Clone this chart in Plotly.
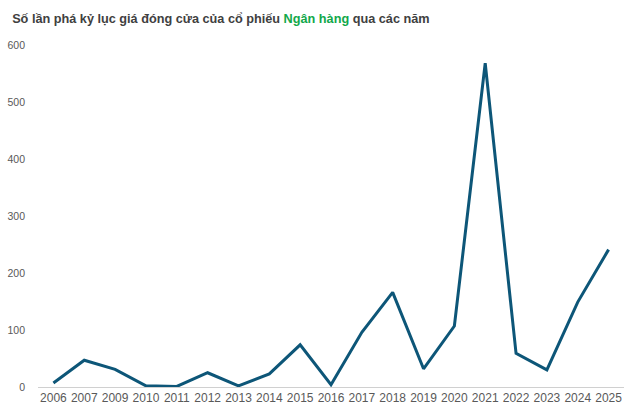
import plotly.graph_objects as go

years = ["2006", "2007", "2009", "2010", "2011", "2012", "2013", "2014", "2015", "2016",
         "2017", "2018", "2019", "2020", "2021", "2022", "2023", "2024", "2025"]
counts = [7, 47, 31, 2, 1, 25, 2, 23, 74, 4, 96, 166, 32, 107, 568, 59, 30, 149, 241]
y_ticks = [0, 100, 200, 300, 400, 500, 600]

fig = go.Figure()
fig.add_trace(go.Scatter(
    x=years, y=counts, mode="lines",
    line=dict(color="#0D5678", width=3),
    hoverinfo="x+y",
))

fig.update_layout(
    width=640, height=418,
    paper_bgcolor="white", plot_bgcolor="white",
    margin=dict(l=38, r=16, t=45, b=31),
    showlegend=False,
    font=dict(family="Liberation Sans, Arial, sans-serif", color="#595959", size=11),
    title=dict(
        text="Số lần phá kỷ lục giá đóng cửa của cổ phiếu <span style='color:#12A84A'>Ngân hàng</span> qua các năm",
        x=0.019, xanchor="left", y=0.955, yanchor="middle",
        font=dict(family="Liberation Sans, Arial, sans-serif",
                  size=12.7, color="#404040", weight="bold"),
    ),
    xaxis=dict(
        type="category", range=[-0.5, len(years) - 0.5], automargin=False,
        showgrid=False, showline=True, linecolor="#D0D0D0", linewidth=1,
        ticks="", tickfont=dict(size=12, color="#595959"), fixedrange=True,
    ),
    yaxis=dict(
        range=[0, 600], tickvals=y_ticks, showgrid=False, zeroline=False, showline=False,
        ticks="", tickfont=dict(size=10.5, color="#595959"), ticklabelstandoff=12,
        fixedrange=True, automargin=False,
    ),
)

fig.write_html("out.html", config={"displayModeBar": False},
               post_script="document.body.style.margin='0';")
